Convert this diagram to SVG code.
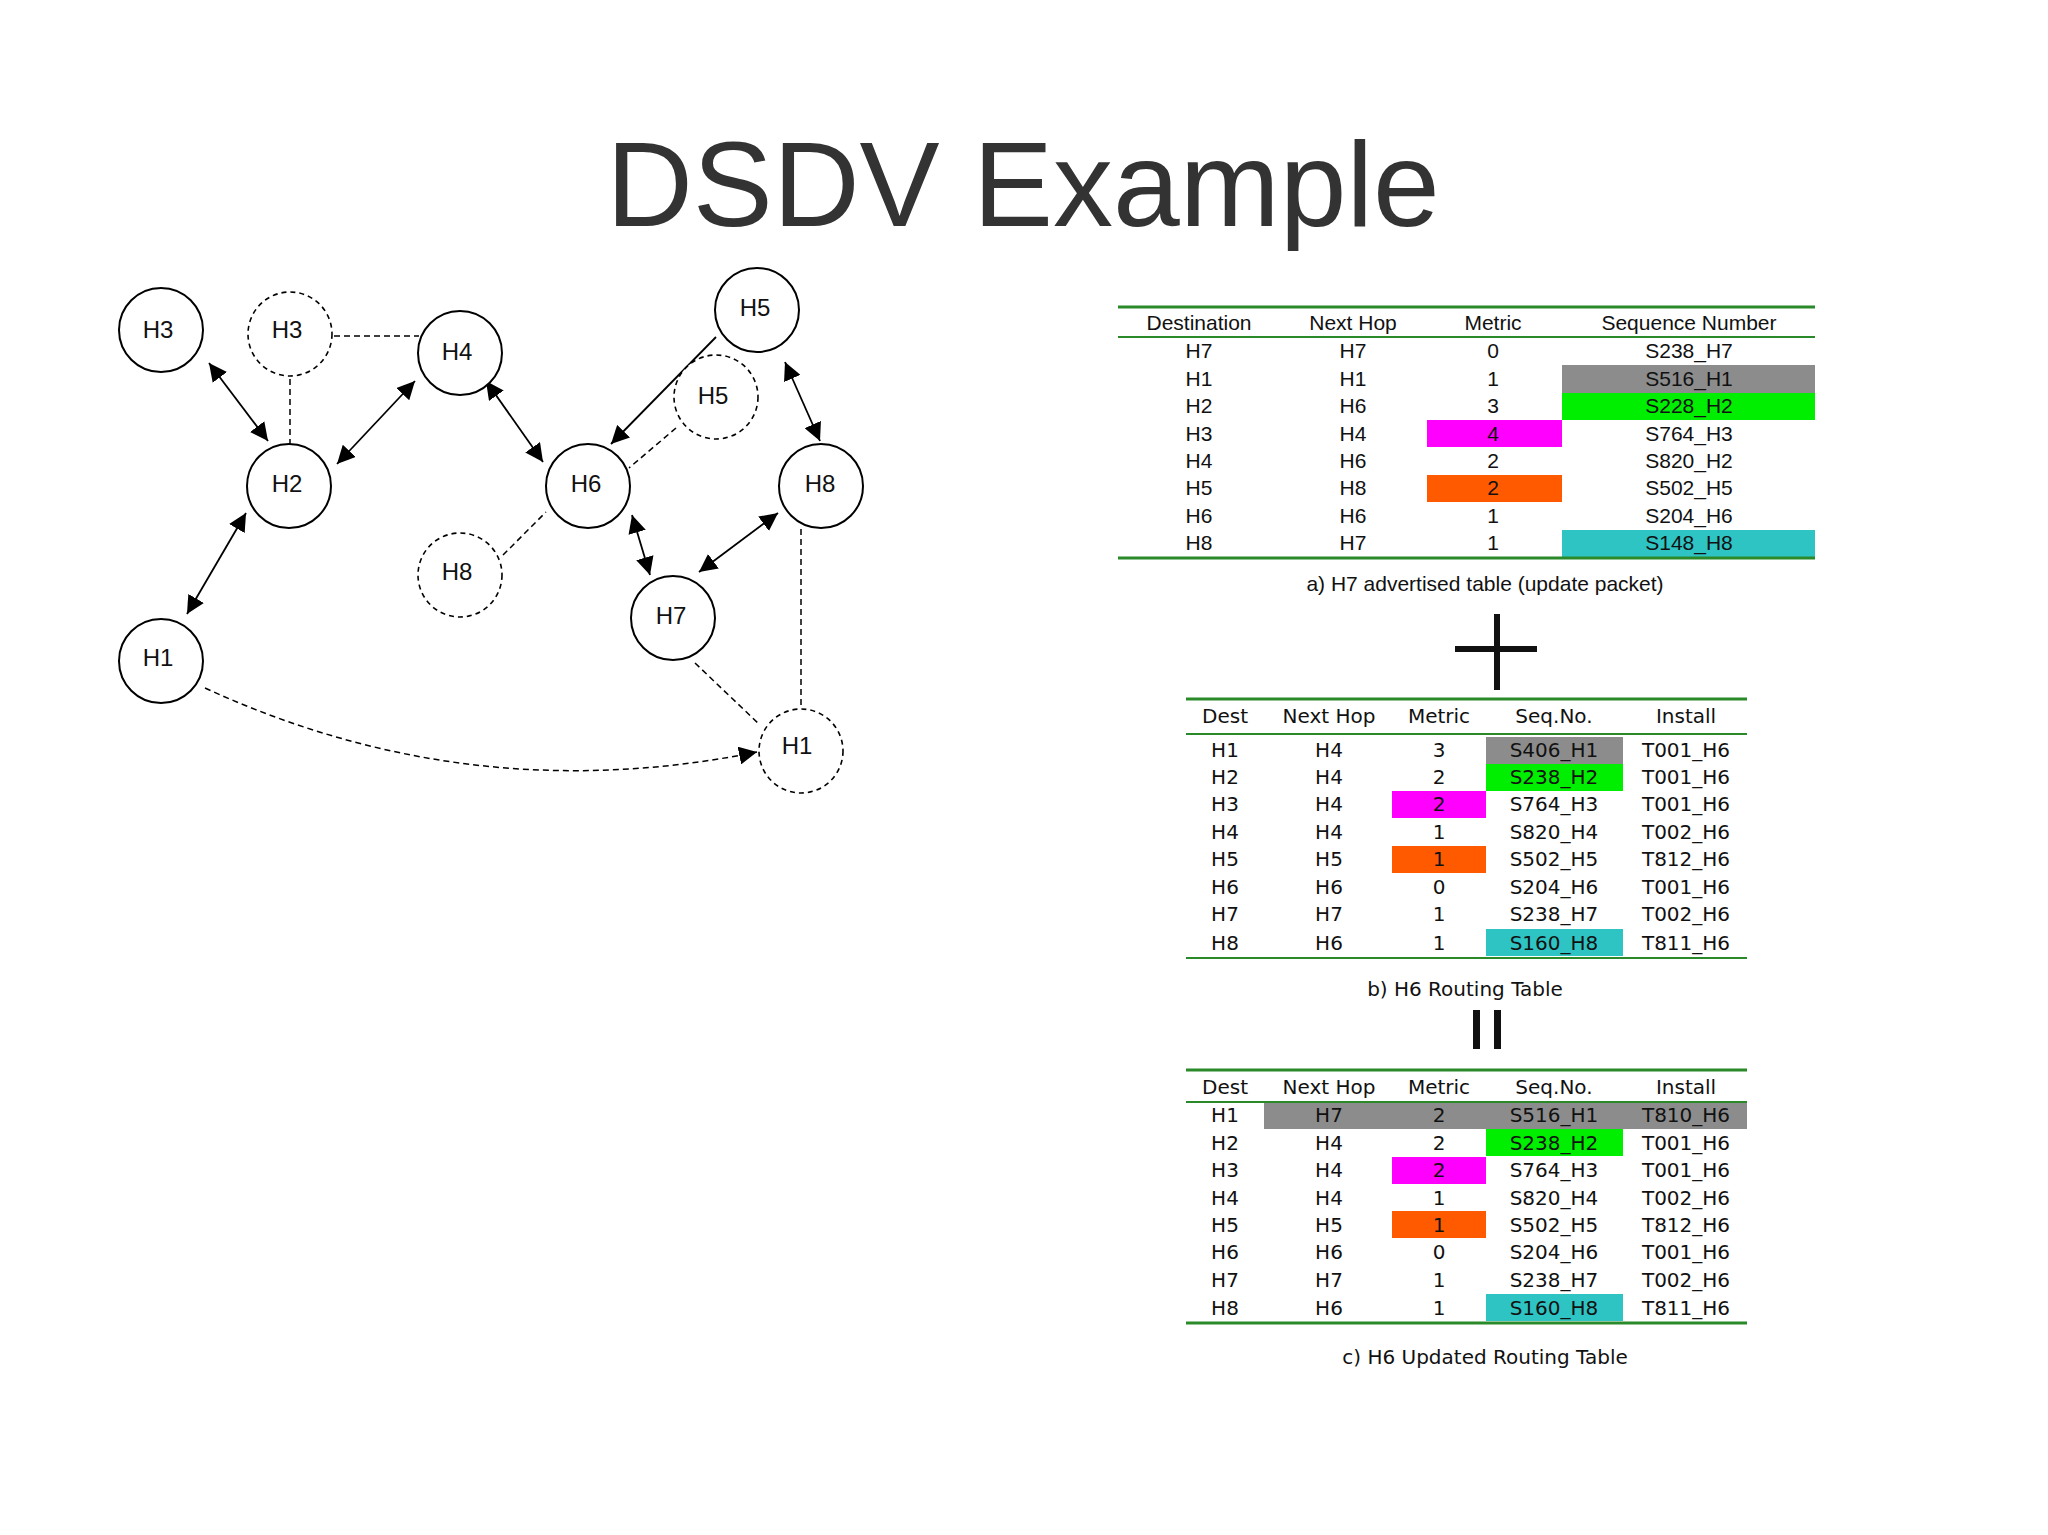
<svg xmlns="http://www.w3.org/2000/svg" width="2048" height="1535" viewBox="0 0 2048 1535">
<style>
.n{fill:#fff;stroke:#000;stroke-width:2}
.d{fill:#fff;stroke:#000;stroke-width:1.6;stroke-dasharray:5 4}
.nl{font-family:"Liberation Sans",Arial,sans-serif;font-size:24px;text-anchor:middle;fill:#111}
.e{stroke:#000;stroke-width:1.8;fill:none}
.ed{stroke:#000;stroke-width:1.5;fill:none;stroke-dasharray:6 4}
.ta{font-family:"Liberation Sans",Arial,sans-serif;font-size:21px;text-anchor:middle;fill:#111}
.tb{font-family:"DejaVu Sans",Verdana,sans-serif;font-size:20px;text-anchor:middle;fill:#111}
.g{stroke:#2a8a2a;stroke-width:3}
.g2{stroke:#2a8a2a;stroke-width:2}
</style>
<defs>
<marker id="ah" viewBox="0 0 10 10" refX="10" refY="5" markerWidth="9" markerHeight="9" orient="auto-start-reverse" markerUnits="userSpaceOnUse"><path d="M0,0L10,5L0,10z" fill="#000"/></marker>
<marker id="ah2" viewBox="0 0 10 10" refX="10" refY="5" markerWidth="18" markerHeight="18" orient="auto-start-reverse" markerUnits="userSpaceOnUse"><path d="M0,0L10,5L0,10z" fill="#000"/></marker>
</defs>
<rect width="2048" height="1535" fill="#fff"/>
<text x="1023" y="226" font-family="Liberation Sans,Arial,sans-serif" font-size="120" text-anchor="middle" fill="#333">DSDV Example</text>

<g id="connectors">
<line class="e" x1="209" y1="363" x2="268" y2="441" marker-start="url(#ah2)" marker-end="url(#ah2)"/>
<line class="ed" x1="290" y1="379" x2="290" y2="444"/>
<line class="ed" x1="334" y1="336" x2="419" y2="336"/>
<line class="e" x1="337" y1="464" x2="415" y2="381" marker-start="url(#ah2)" marker-end="url(#ah2)"/>
<line class="e" x1="486" y1="381" x2="543" y2="462" marker-start="url(#ah2)" marker-end="url(#ah2)"/>
<line class="e" x1="716" y1="337" x2="611" y2="444" marker-end="url(#ah2)"/>
<line class="ed" x1="676" y1="428" x2="629" y2="468"/>
<line class="ed" x1="503" y1="555" x2="546" y2="512"/>
<line class="e" x1="785" y1="362" x2="820" y2="441" marker-start="url(#ah2)" marker-end="url(#ah2)"/>
<line class="e" x1="632" y1="515" x2="650" y2="575" marker-start="url(#ah2)" marker-end="url(#ah2)"/>
<line class="e" x1="699" y1="572" x2="778" y2="513" marker-start="url(#ah2)" marker-end="url(#ah2)"/>
<line class="ed" x1="801" y1="529" x2="801" y2="708"/>
<line class="ed" x1="695" y1="663" x2="760" y2="725"/>
<path class="ed" d="M205,688 Q470,810 757,752" marker-end="url(#ah2)"/>
<line class="e" x1="187" y1="614" x2="246" y2="513" marker-start="url(#ah2)" marker-end="url(#ah2)"/>
</g>

<g id="n-h3"><circle class="n" cx="161" cy="330" r="42"/><text class="nl" x="158" y="338">H3</text></g>
<g id="n-h3d"><circle class="d" cx="290" cy="334" r="42"/><text class="nl" x="287" y="338">H3</text></g>
<g id="n-h4"><circle class="n" cx="460" cy="353" r="42"/><text class="nl" x="457" y="360">H4</text></g>
<g id="n-h5"><circle class="n" cx="757" cy="310" r="42"/><text class="nl" x="755" y="316">H5</text></g>
<g id="n-h5d"><circle class="d" cx="716" cy="397" r="42"/><text class="nl" x="713" y="404">H5</text></g>
<g id="n-h2"><circle class="n" cx="289" cy="486" r="42"/><text class="nl" x="287" y="492">H2</text></g>
<g id="n-h6"><circle class="n" cx="588" cy="486" r="42"/><text class="nl" x="586" y="492">H6</text></g>
<g id="n-h8"><circle class="n" cx="821" cy="486" r="42"/><text class="nl" x="820" y="492">H8</text></g>
<g id="n-h8d"><circle class="d" cx="460" cy="575" r="42"/><text class="nl" x="457" y="580">H8</text></g>
<g id="n-h7"><circle class="n" cx="673" cy="618" r="42"/><text class="nl" x="671" y="624">H7</text></g>
<g id="n-h1"><circle class="n" cx="161" cy="661" r="42"/><text class="nl" x="158" y="666">H1</text></g>
<g id="n-h1d"><circle class="d" cx="801" cy="751" r="42"/><text class="nl" x="797" y="754">H1</text></g>

<g id="table-a">
<rect x="1562" y="365" width="253" height="28" fill="#8c8c8c"/>
<rect x="1562" y="393" width="253" height="27" fill="#00ee00"/>
<rect x="1427" y="420" width="135" height="27" fill="#ff00ff"/>
<rect x="1427" y="475" width="135" height="27" fill="#ff5a00"/>
<rect x="1562" y="530" width="253" height="27" fill="#2ec4c4"/>
<line class="g" x1="1118" y1="307" x2="1815" y2="307"/>
<line class="g2" x1="1118" y1="337" x2="1815" y2="337"/>
<line class="g" x1="1118" y1="558" x2="1815" y2="558" stroke-width="4"/>
<g class="ta">
<text x="1199" y="330">Destination</text><text x="1353" y="330">Next Hop</text><text x="1493" y="330">Metric</text><text x="1689" y="330">Sequence Number</text>
<text x="1199" y="358">H7</text><text x="1353" y="358">H7</text><text x="1493" y="358">0</text><text x="1689" y="358">S238_H7</text>
<text x="1199" y="386">H1</text><text x="1353" y="386">H1</text><text x="1493" y="386">1</text><text x="1689" y="386">S516_H1</text>
<text x="1199" y="413">H2</text><text x="1353" y="413">H6</text><text x="1493" y="413">3</text><text x="1689" y="413">S228_H2</text>
<text x="1199" y="441">H3</text><text x="1353" y="441">H4</text><text x="1493" y="441">4</text><text x="1689" y="441">S764_H3</text>
<text x="1199" y="468">H4</text><text x="1353" y="468">H6</text><text x="1493" y="468">2</text><text x="1689" y="468">S820_H2</text>
<text x="1199" y="495">H5</text><text x="1353" y="495">H8</text><text x="1493" y="495">2</text><text x="1689" y="495">S502_H5</text>
<text x="1199" y="523">H6</text><text x="1353" y="523">H6</text><text x="1493" y="523">1</text><text x="1689" y="523">S204_H6</text>
<text x="1199" y="550">H8</text><text x="1353" y="550">H7</text><text x="1493" y="550">1</text><text x="1689" y="550">S148_H8</text>
<text x="1485" y="591">a) H7 advertised table (update packet)</text>
</g>
</g>

<g id="plus"><rect x="1455" y="646" width="82" height="6" fill="#111"/><rect x="1494" y="614" width="6" height="76" fill="#111"/></g>

<g id="table-b">
<rect x="1486" y="737" width="137" height="27" fill="#8c8c8c"/>
<rect x="1486" y="764" width="137" height="27" fill="#00ee00"/>
<rect x="1392" y="791" width="94" height="27" fill="#ff00ff"/>
<rect x="1392" y="846" width="94" height="27" fill="#ff5a00"/>
<rect x="1486" y="929" width="137" height="27" fill="#2ec4c4"/>
<line class="g" x1="1186" y1="699" x2="1747" y2="699"/>
<line class="g2" x1="1186" y1="734" x2="1747" y2="734"/>
<line class="g2" x1="1186" y1="958" x2="1747" y2="958"/>
<g class="tb">
<text x="1225" y="723">Dest</text><text x="1329" y="723">Next Hop</text><text x="1439" y="723">Metric</text><text x="1554" y="723">Seq.No.</text><text x="1686" y="723">Install</text>
<text x="1225" y="757">H1</text><text x="1329" y="757">H4</text><text x="1439" y="757">3</text><text x="1554" y="757">S406_H1</text><text x="1686" y="757">T001_H6</text>
<text x="1225" y="784">H2</text><text x="1329" y="784">H4</text><text x="1439" y="784">2</text><text x="1554" y="784">S238_H2</text><text x="1686" y="784">T001_H6</text>
<text x="1225" y="811">H3</text><text x="1329" y="811">H4</text><text x="1439" y="811">2</text><text x="1554" y="811">S764_H3</text><text x="1686" y="811">T001_H6</text>
<text x="1225" y="839">H4</text><text x="1329" y="839">H4</text><text x="1439" y="839">1</text><text x="1554" y="839">S820_H4</text><text x="1686" y="839">T002_H6</text>
<text x="1225" y="866">H5</text><text x="1329" y="866">H5</text><text x="1439" y="866">1</text><text x="1554" y="866">S502_H5</text><text x="1686" y="866">T812_H6</text>
<text x="1225" y="894">H6</text><text x="1329" y="894">H6</text><text x="1439" y="894">0</text><text x="1554" y="894">S204_H6</text><text x="1686" y="894">T001_H6</text>
<text x="1225" y="921">H7</text><text x="1329" y="921">H7</text><text x="1439" y="921">1</text><text x="1554" y="921">S238_H7</text><text x="1686" y="921">T002_H6</text>
<text x="1225" y="950">H8</text><text x="1329" y="950">H6</text><text x="1439" y="950">1</text><text x="1554" y="950">S160_H8</text><text x="1686" y="950">T811_H6</text>
<text x="1465" y="996">b) H6 Routing Table</text>
</g>
</g>

<g id="equals"><rect x="1473" y="1010" width="7" height="39" fill="#111"/><rect x="1494" y="1010" width="7" height="39" fill="#111"/></g>

<g id="table-c">
<rect x="1264" y="1102" width="483" height="27" fill="#8c8c8c"/>
<rect x="1486" y="1129" width="137" height="27" fill="#00ee00"/>
<rect x="1392" y="1157" width="94" height="27" fill="#ff00ff"/>
<rect x="1392" y="1211" width="94" height="27" fill="#ff5a00"/>
<rect x="1486" y="1294" width="137" height="27" fill="#2ec4c4"/>
<line class="g" x1="1186" y1="1070" x2="1747" y2="1070"/>
<line class="g2" x1="1186" y1="1102" x2="1747" y2="1102"/>
<line class="g" x1="1186" y1="1323" x2="1747" y2="1323"/>
<g class="tb">
<text x="1225" y="1094">Dest</text><text x="1329" y="1094">Next Hop</text><text x="1439" y="1094">Metric</text><text x="1554" y="1094">Seq.No.</text><text x="1686" y="1094">Install</text>
<text x="1225" y="1122">H1</text><text x="1329" y="1122">H7</text><text x="1439" y="1122">2</text><text x="1554" y="1122">S516_H1</text><text x="1686" y="1122">T810_H6</text>
<text x="1225" y="1150">H2</text><text x="1329" y="1150">H4</text><text x="1439" y="1150">2</text><text x="1554" y="1150">S238_H2</text><text x="1686" y="1150">T001_H6</text>
<text x="1225" y="1177">H3</text><text x="1329" y="1177">H4</text><text x="1439" y="1177">2</text><text x="1554" y="1177">S764_H3</text><text x="1686" y="1177">T001_H6</text>
<text x="1225" y="1205">H4</text><text x="1329" y="1205">H4</text><text x="1439" y="1205">1</text><text x="1554" y="1205">S820_H4</text><text x="1686" y="1205">T002_H6</text>
<text x="1225" y="1232">H5</text><text x="1329" y="1232">H5</text><text x="1439" y="1232">1</text><text x="1554" y="1232">S502_H5</text><text x="1686" y="1232">T812_H6</text>
<text x="1225" y="1259">H6</text><text x="1329" y="1259">H6</text><text x="1439" y="1259">0</text><text x="1554" y="1259">S204_H6</text><text x="1686" y="1259">T001_H6</text>
<text x="1225" y="1287">H7</text><text x="1329" y="1287">H7</text><text x="1439" y="1287">1</text><text x="1554" y="1287">S238_H7</text><text x="1686" y="1287">T002_H6</text>
<text x="1225" y="1315">H8</text><text x="1329" y="1315">H6</text><text x="1439" y="1315">1</text><text x="1554" y="1315">S160_H8</text><text x="1686" y="1315">T811_H6</text>
<text x="1485" y="1364">c) H6 Updated Routing Table</text>
</g>
</g>
</svg>
